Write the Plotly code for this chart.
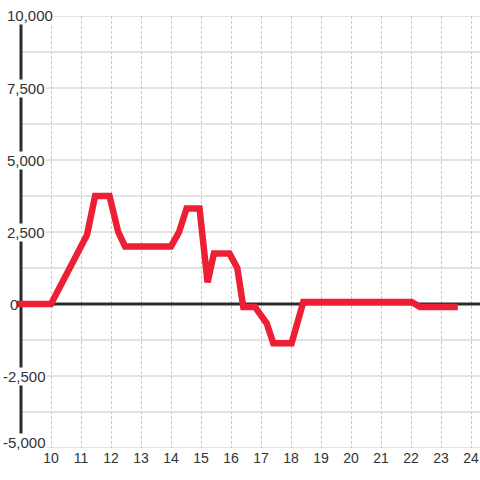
import plotly.graph_objects as go

# hour of day vs. net value
hours = [8.87, 10.0, 11.2, 11.47, 11.95, 12.24, 12.47, 14.0, 14.27, 14.52,
         14.95, 15.22, 15.43, 15.95, 16.21, 16.41, 16.8, 17.19, 17.41, 18.02,
         18.41, 22.02, 22.3, 23.56]
values = [0, 0, 2400, 3750, 3750, 2500, 2000, 2000, 2500, 3320,
          3320, 750, 1750, 1750, 1250, -100, -100, -670, -1360, -1360,
          70, 70, -100, -100]

x_ticks = list(range(10, 25))
y_grid = [-5000, -3750, -2500, -1250, 1250, 2500, 3750, 5000, 6250, 7500, 8750, 10000]
y_labels = [10000, 7500, 5000, 2500, 0, -2500, -5000]

FONT = "Liberation Sans, Arial, sans-serif"
TEXT = "#333333"
GRID = "#c8c8c8"
RED = "#ed1f34"

fig = go.Figure()
fig.add_trace(go.Scatter(
    x=hours, y=values, mode="lines",
    line=dict(color=RED, width=6.5),
    hoverinfo="skip", showlegend=False,
))

shapes = []
for v in y_grid:
    shapes.append(dict(type="line", xref="x", yref="y", x0=9, x1=24.3, y0=v, y1=v,
                       line=dict(color=GRID, width=1), layer="between"))
# zero line and y axis line
shapes.append(dict(type="line", xref="x", yref="y", x0=9, x1=24.3, y0=0, y1=0,
                   line=dict(color="#2b2b2b", width=3), layer="between"))
shapes.append(dict(type="line", xref="x", yref="y", x0=9, x1=9, y0=-5000, y1=10000,
                   line=dict(color="#2b2b2b", width=3), layer="between"))

annotations = []
for v in y_labels:
    if v > 0:
        shift, bg = -15, "white"
    elif v == 0:
        shift, bg = -12.5, "rgba(0,0,0,0)"
    else:
        shift, bg = -19.5, "white"
    annotations.append(dict(
        x=9, y=v, xref="x", yref="y", text=f"{v:,}", showarrow=False,
        xanchor="left", yanchor="middle", xshift=shift,
        yshift=6 if v == -5000 else (1 if v == 10000 else 0),
        bgcolor=bg, borderpad=0,
        font=dict(family=FONT, size=15, color=TEXT),
    ))

fig.update_layout(
    width=480, height=480,
    margin=dict(l=16, r=0, t=16, b=32),
    paper_bgcolor="white", plot_bgcolor="white",
    showlegend=False,
    shapes=shapes, annotations=annotations,
    xaxis=dict(
        range=[24.3 - 464 / 30, 24.3],
        tickvals=x_ticks, ticks="",
        showgrid=True, gridcolor=GRID, gridwidth=1, griddash="3px,2px",
        zeroline=False, showline=False,
        tickfont=dict(family=FONT, size=14, color=TEXT),
    ),
    yaxis=dict(
        range=[-5000, 10000],
        showgrid=False, zeroline=False, showline=False, showticklabels=False,
    ),
)

# page has a default 8px body margin; drop it so the figure sits at the corner
fig.write_html("out.html", config={"displayModeBar": False},
               post_script="document.body.style.margin='0';")
